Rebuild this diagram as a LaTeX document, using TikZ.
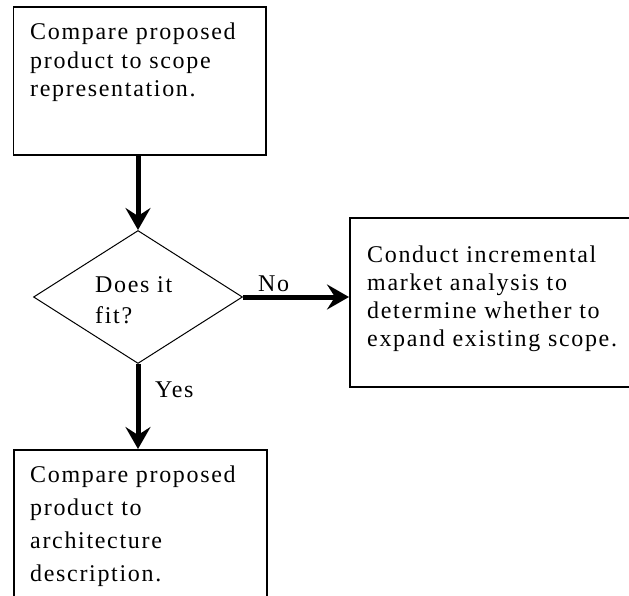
\documentclass[tikz,border=0pt]{standalone}
\usepackage{fontspec}
\setmainfont{Liberation Serif}[LetterSpace=7]
\usetikzlibrary{shapes.geometric,arrows.meta}
\begin{document}
\begin{tikzpicture}[x=1pt,y=-1pt,
  box/.style={draw,line width=1.6pt,inner sep=0pt,anchor=north west},
  decision/.style={draw,shape=diamond,line width=1pt,inner sep=0pt,
    minimum width=209pt,minimum height=133pt},
  txt/.style={inner sep=0pt,anchor=base west,align=left},
  flow/.style={line width=5pt,-{Stealth[length=22pt,width=25pt,inset=8pt]}}]
\useasboundingbox (0,0) rectangle (629,596);
\clip (0,0) rectangle (629,596);

% process boxes
\node[box,minimum width=252.5pt,minimum height=148pt] (scope) at (12.5,6) {};
\node[box,minimum width=300pt,minimum height=169pt] (market) at (349,217) {};
\node[box,minimum width=253pt,minimum height=200pt] (arch) at (13,449) {};

% decision
\node[decision] (fit) at (138,297) {};

% box texts (each placed by the baseline of its last line)
\node[txt,font=\fontsize{24}{28.5}\selectfont] (scopetxt) at (30,97)
  {Compare proposed\\product to scope\\representation.};
\node[txt,font=\fontsize{24}{28}\selectfont] (markettxt) at (367,346)
  {Conduct incremental\\market analysis to\\determine whether to\\expand existing scope.};
\node[txt,font=\fontsize{24}{33}\selectfont] (archtxt) at (30,581)
  {Compare proposed\\product to\\architecture\\description.};
\node[txt,font=\fontsize{24}{31}\selectfont] (fittxt) at (95,323)
  {Does it\\fit?};

% connectors
\draw[flow] (fit.north |- scope.south) -- (fit.north);
\draw[flow] (fit.east) -- (fit.east -| market.west);
\draw[flow] (fit.south) -- (fit.south |- arch.north);

% branch labels
\node[txt,font=\fontsize{24}{28}\selectfont] (no) at (258,291) {No};
\node[txt,font=\fontsize{24}{28}\selectfont] (yes) at (155,397) {Yes};
\end{tikzpicture}
\end{document}
